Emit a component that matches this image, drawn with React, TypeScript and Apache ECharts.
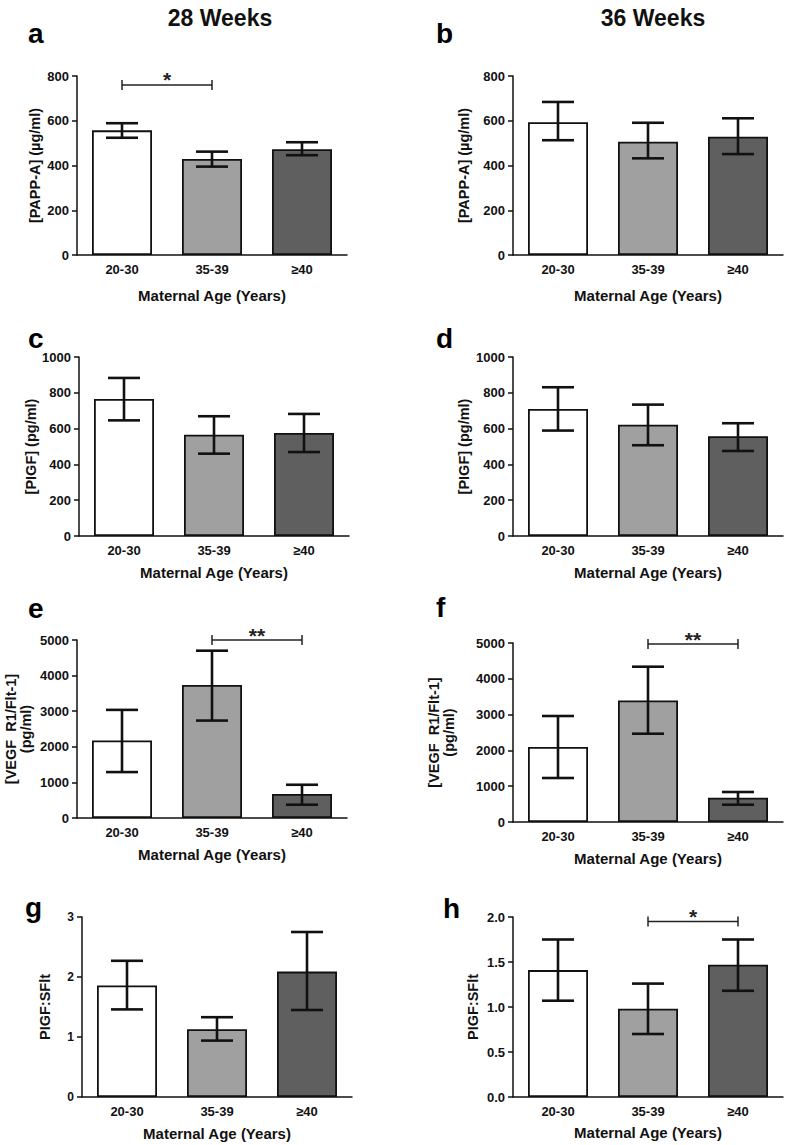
import React, { useEffect, useRef } from 'react';
import * as echarts from 'echarts';

// ---------- data ----------
const categories = ['20-30', '35-39', '≥40'];
const barColors = ['#ffffff', '#a0a0a0', '#5f5f5f'];

// a: PAPP-A 28 weeks
const pappA28Mean = [557, 429, 473];
const pappA28High = [589, 462, 504];
const pappA28Low = [524, 395, 446];
// b: PAPP-A 36 weeks
const pappA36Mean = [593, 506, 529];
const pappA36High = [684, 591, 611];
const pappA36Low = [513, 432, 451];
// c: PlGF 28 weeks
const plgf28Mean = [765, 566, 575];
const plgf28High = [883, 669, 682];
const plgf28Low = [646, 460, 469];
// d: PlGF 36 weeks
const plgf36Mean = [710, 622, 557];
const plgf36High = [831, 734, 630];
const plgf36Low = [589, 507, 475];
// e: VEGF R1 28 weeks
const vegf28Mean = [2176, 3738, 673];
const vegf28High = [3037, 4700, 934];
const vegf28Low = [1290, 2737, 373];
// f: VEGF R1 36 weeks
const vegf36Mean = [2095, 3397, 679];
const vegf36High = [2961, 4338, 838];
const vegf36Low = [1229, 2466, 483];
// g: PlGF:sFlt 28 weeks
const ratio28Mean = [1.86, 1.13, 2.09];
const ratio28High = [2.27, 1.33, 2.75];
const ratio28Low = [1.46, 0.94, 1.45];
// h: PlGF:sFlt 36 weeks
const ratio36Mean = [1.41, 0.98, 1.47];
const ratio36High = [1.75, 1.26, 1.75];
const ratio36Low = [1.07, 0.7, 1.18];

// significance brackets: [fromIndex, toIndex, yValue]
const sigA = [0, 1, 760];
const sigE = [1, 2, 5000];
const sigF = [1, 2, 4970];
const sigH = [1, 2, 1.95];

const columnTitles = ['28 Weeks', '36 Weeks'];
const xAxisTitle = 'Maternal Age (Years)';

// ---------- layout ----------
const FONT = "'Liberation Sans', Arial, sans-serif";

type Panel = {
  letter: string;
  yName: string;
  max: number;
  interval: number;
  decimals: number;
  mean: number[];
  high: number[];
  low: number[];
  sig?: number[];
  sigLabel?: string;
  grid: { left: number; top: number; width: number; height: number };
  yNameGap: number;
  xNameGap: number;
  letterPos: [number, number];
  tickFont: number;
};

const panels: Panel[] = [
  { letter: 'a', yName: '[PAPP-A] (µg/ml)', max: 800, interval: 200, decimals: 0,
    mean: pappA28Mean, high: pappA28High, low: pappA28Low, sig: sigA, sigLabel: '*',
    grid: { left: 77, top: 76, width: 270, height: 179 }, yNameGap: 35, xNameGap: 33, letterPos: [28, 33], tickFont: 13 },
  { letter: 'b', yName: '[PAPP-A] (µg/ml)', max: 800, interval: 200, decimals: 0,
    mean: pappA36Mean, high: pappA36High, low: pappA36Low,
    grid: { left: 513, top: 76, width: 270, height: 179 }, yNameGap: 42, xNameGap: 33, letterPos: [436, 33], tickFont: 13 },
  { letter: 'c', yName: '[PIGF] (pg/ml)', max: 1000, interval: 200, decimals: 0,
    mean: plgf28Mean, high: plgf28High, low: plgf28Low,
    grid: { left: 79, top: 357, width: 270, height: 179 }, yNameGap: 39, xNameGap: 29, letterPos: [28, 338], tickFont: 13 },
  { letter: 'd', yName: '[PIGF] (pg/ml)', max: 1000, interval: 200, decimals: 0,
    mean: plgf36Mean, high: plgf36High, low: plgf36Low,
    grid: { left: 513, top: 357, width: 270, height: 179 }, yNameGap: 42, xNameGap: 29, letterPos: [436, 338], tickFont: 13 },
  { letter: 'e', yName: '[VEGF  R1/Flt-1]\n(pg/ml)', max: 5000, interval: 1000, decimals: 0,
    mean: vegf28Mean, high: vegf28High, low: vegf28Low, sig: sigE, sigLabel: '**',
    grid: { left: 77, top: 640, width: 270, height: 178 }, yNameGap: 44, xNameGap: 29, letterPos: [28, 608], tickFont: 13 },
  { letter: 'f', yName: '[VEGF  R1/Flt-1]\n(pg/ml)', max: 5000, interval: 1000, decimals: 0,
    mean: vegf36Mean, high: vegf36High, low: vegf36Low, sig: sigF, sigLabel: '**',
    grid: { left: 513, top: 643, width: 270, height: 179 }, yNameGap: 57, xNameGap: 29, letterPos: [436, 607], tickFont: 13 },
  { letter: 'g', yName: 'PIGF:SFlt', max: 3, interval: 1, decimals: 0,
    mean: ratio28Mean, high: ratio28High, low: ratio28Low,
    grid: { left: 82, top: 917, width: 270, height: 180 }, yNameGap: 30, xNameGap: 29, letterPos: [25, 907], tickFont: 12 },
  { letter: 'h', yName: 'PIGF:SFlt', max: 2, interval: 0.5, decimals: 1,
    mean: ratio36Mean, high: ratio36High, low: ratio36Low, sig: sigH, sigLabel: '*',
    grid: { left: 513, top: 917, width: 270, height: 180 }, yNameGap: 33, xNameGap: 28, letterPos: [443, 908], tickFont: 13 },
];

function buildOption() {
  const grid: any[] = [];
  const xAxis: any[] = [];
  const yAxis: any[] = [];
  const series: any[] = [];
  const graphic: any[] = [];

  panels.forEach((p, i) => {
    grid.push({ ...p.grid });
    xAxis.push({
      type: 'category',
      gridIndex: i,
      data: categories,
      name: xAxisTitle,
      nameLocation: 'middle',
      nameGap: p.xNameGap,
      nameTextStyle: { fontFamily: FONT, fontWeight: 'bold', fontSize: 15, color: '#111' },
      axisLine: { lineStyle: { color: '#111', width: 1.5 } },
      axisTick: { alignWithLabel: true, length: 5, lineStyle: { color: '#111', width: 1.5 } },
      axisLabel: { fontFamily: FONT, fontWeight: 'bold', fontSize: 13, color: '#111', margin: 8 },
      splitLine: { show: false },
    });
    yAxis.push({
      type: 'value',
      gridIndex: i,
      min: 0,
      max: p.max,
      interval: p.interval,
      name: p.yName,
      nameLocation: 'middle',
      nameGap: p.yNameGap,
      nameTextStyle: { fontFamily: FONT, fontWeight: 'bold', fontSize: 14.5, color: '#111', lineHeight: 15 },
      axisLine: { show: true, lineStyle: { color: '#111', width: 1.5 } },
      axisTick: { show: true, length: 5, lineStyle: { color: '#111', width: 1.5 } },
      axisLabel: {
        fontFamily: FONT, fontWeight: 'bold', fontSize: p.tickFont, color: '#111', margin: 8,
        formatter: (v: number) => v.toFixed(p.decimals),
      },
      splitLine: { show: false },
    });
    series.push({
      type: 'bar',
      xAxisIndex: i,
      yAxisIndex: i,
      barWidth: 60,
      data: p.mean.map((v, k) => ({ value: v, itemStyle: { color: barColors[k] } })),
      itemStyle: { borderColor: '#111', borderWidth: 1.8 },
      z: 2,
    });
    series.push({
      type: 'custom',
      xAxisIndex: i,
      yAxisIndex: i,
      z: 5,
      encode: { x: 0, y: [1, 2] },
      data: p.mean.map((_, k) => [k, p.low[k], p.high[k]]),
      renderItem: (params: any, api: any) => {
        const idx = api.value(0);
        const pHi = api.coord([idx, api.value(2)]);
        const pLo = api.coord([idx, api.value(1)]);
        const cx = pHi[0];
        const w = 16;
        const st = { stroke: '#111', lineWidth: 2.6 };
        return {
          type: 'group',
          children: [
            { type: 'line', shape: { x1: cx, y1: pHi[1], x2: cx, y2: pLo[1] }, style: st },
            { type: 'line', shape: { x1: cx - w, y1: pHi[1], x2: cx + w, y2: pHi[1] }, style: st },
            { type: 'line', shape: { x1: cx - w, y1: pLo[1], x2: cx + w, y2: pLo[1] }, style: st },
          ],
        };
      },
    });
    if (p.sig) {
      const label = p.sigLabel;
      series.push({
        type: 'custom',
        xAxisIndex: i,
        yAxisIndex: i,
        z: 6,
        clip: false,
        encode: { x: [0, 1], y: 2 },
        data: [p.sig],
        renderItem: (params: any, api: any) => {
          const a = api.coord([api.value(0), api.value(2)]);
          const b = api.coord([api.value(1), api.value(2)]);
          const y = a[1];
          const st = { stroke: '#222', lineWidth: 1.5 };
          return {
            type: 'group',
            children: [
              { type: 'line', shape: { x1: a[0], y1: y, x2: b[0], y2: y }, style: st },
              { type: 'line', shape: { x1: a[0], y1: y - 5, x2: a[0], y2: y + 5 }, style: st },
              { type: 'line', shape: { x1: b[0], y1: y - 5, x2: b[0], y2: y + 5 }, style: st },
              {
                type: 'text',
                style: {
                  text: label, x: (a[0] + b[0]) / 2, y: y - 5,
                  align: 'center', verticalAlign: 'middle', textAlign: 'center', textVerticalAlign: 'middle',
                  font: `bold 21px ${FONT}`, fill: '#222',
                },
              },
            ],
          };
        },
      });
    }
    graphic.push({
      type: 'text',
      left: p.letterPos[0],
      top: p.letterPos[1] - 14,
      style: { text: p.letter, font: `bold 28px ${FONT}`, fill: '#000' },
    });
  });

  graphic.push({
    type: 'text', x: 220, y: 18,
    style: { text: columnTitles[0], font: `bold 23px ${FONT}`, fill: '#111', align: 'center', verticalAlign: 'middle', textAlign: 'center', textVerticalAlign: 'middle' },
  });
  graphic.push({
    type: 'text', x: 653, y: 18,
    style: { text: columnTitles[1], font: `bold 23px ${FONT}`, fill: '#111', align: 'center', verticalAlign: 'middle', textAlign: 'center', textVerticalAlign: 'middle' },
  });

  return {
    animation: false,
    backgroundColor: '#ffffff',
    grid,
    xAxis,
    yAxis,
    series,
    graphic,
  };
}

export default function App() {
  const ref = useRef<HTMLDivElement>(null);
  useEffect(() => {
    if (!ref.current) return;
    const chart = echarts.init(ref.current, undefined, { renderer: 'svg' });
    chart.setOption(buildOption() as any);
    return () => chart.dispose();
  }, []);
  return (
    <div
      ref={ref}
      style={{ position: 'absolute', left: 0, top: 0, width: 787, height: 1145, background: '#fff' }}
    />
  );
}
